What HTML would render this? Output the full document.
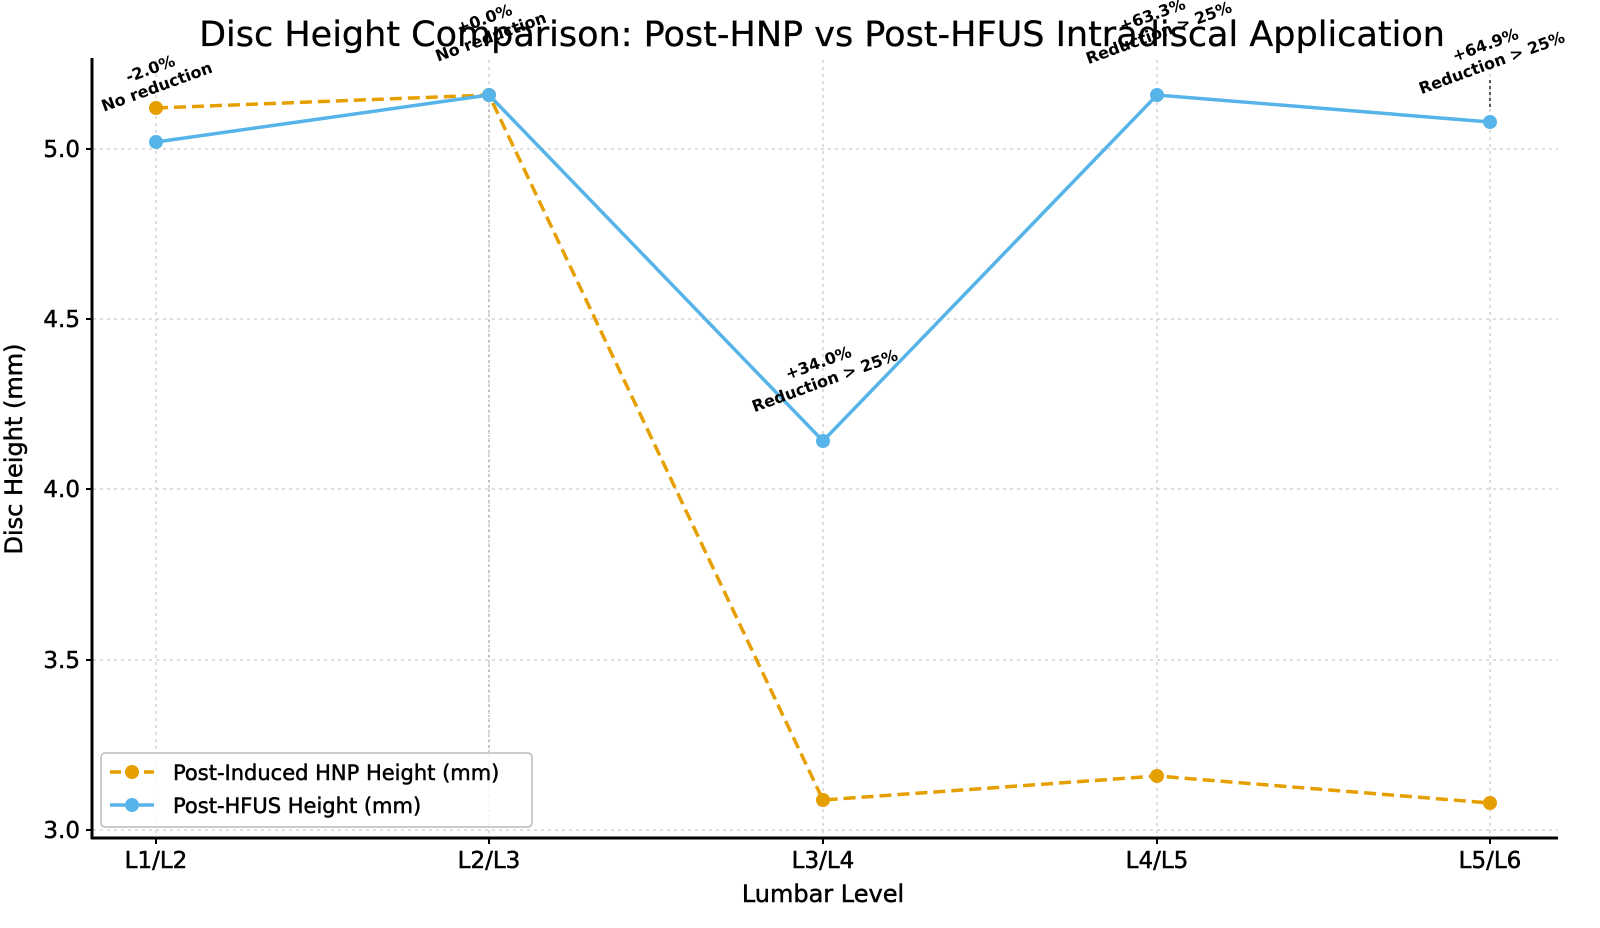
<!DOCTYPE html>
<html><head><style>body{margin:0;background:#fff}</style></head><body>
<svg width="1600" height="923" xmlns="http://www.w3.org/2000/svg" font-family="DejaVu Sans, Liberation Sans, sans-serif">
<rect width="1600" height="923" fill="#fff"/>
<g stroke="#ccc" stroke-width="1.3" stroke-dasharray="3,4">
<line x1="93" y1="149" x2="1558" y2="149"/><line x1="93" y1="319" x2="1558" y2="319"/>
<line x1="93" y1="489" x2="1558" y2="489"/><line x1="93" y1="660" x2="1558" y2="660"/>
<line x1="93" y1="830" x2="1558" y2="830"/>
<line x1="156" y1="60" x2="156" y2="838"/><line x1="489" y1="60" x2="489" y2="838"/>
<line x1="823" y1="60" x2="823" y2="838"/><line x1="1157" y1="60" x2="1157" y2="838"/>
<line x1="1490" y1="60" x2="1490" y2="838"/>
</g>
<g stroke="#000" stroke-width="1.3" stroke-dasharray="3,3">
<line x1="1490" y1="80" x2="1490" y2="108"/>
</g>
<line x1="489" y1="105" x2="489" y2="830" stroke="#666" stroke-width="1" stroke-dasharray="2,3" opacity="0.6"/>
<g stroke="#000" stroke-width="3" fill="none">
<line x1="92" y1="58" x2="92" y2="839"/><line x1="91" y1="838" x2="1558" y2="838"/>
</g>
<g stroke="#000" stroke-width="2">
<line x1="86" y1="149" x2="92" y2="149"/><line x1="86" y1="319" x2="92" y2="319"/><line x1="86" y1="489" x2="92" y2="489"/><line x1="86" y1="660" x2="92" y2="660"/><line x1="86" y1="830" x2="92" y2="830"/>
<line x1="156" y1="838" x2="156" y2="844"/><line x1="489" y1="838" x2="489" y2="844"/><line x1="823" y1="838" x2="823" y2="844"/><line x1="1157" y1="838" x2="1157" y2="844"/><line x1="1490" y1="838" x2="1490" y2="844"/>
</g>
<g font-size="23" text-anchor="end" fill="#000" stroke="#000" stroke-width="0.5">
<text x="80" y="157">5.0</text><text x="80" y="327">4.5</text><text x="80" y="497">4.0</text><text x="80" y="668">3.5</text><text x="80" y="838">3.0</text>
</g>
<g font-size="23" text-anchor="middle" fill="#000" stroke="#000" stroke-width="0.5">
<text x="156" y="868">L1/L2</text><text x="489" y="868">L2/L3</text><text x="823" y="868">L3/L4</text><text x="1157" y="868">L4/L5</text><text x="1490" y="868">L5/L6</text>
<text x="823" y="902" font-size="24">Lumbar Level</text>
<text transform="translate(22,449) rotate(-90)" font-size="24">Disc Height (mm)</text>
<text x="822" y="46" font-size="35" stroke-width="0.3">Disc Height Comparison: Post-HNP vs Post-HFUS Intradiscal Application</text>
</g>
<polyline points="156,108 489,95 823,800 1157,776 1490,803" fill="none" stroke="#E69F00" stroke-width="3.5" stroke-dasharray="12,6"/>
<g fill="#E69F00"><circle cx="156" cy="108" r="7"/><circle cx="489" cy="95" r="7"/><circle cx="823" cy="800" r="7"/><circle cx="1157" cy="776" r="7"/><circle cx="1490" cy="803" r="7"/></g>
<polyline points="156,142 489,95 823,441 1157,95 1490,122" fill="none" stroke="#56B4E9" stroke-width="3.5"/>
<g fill="#56B4E9"><circle cx="156" cy="142" r="7"/><circle cx="489" cy="95" r="7"/><circle cx="823" cy="441" r="7"/><circle cx="1157" cy="95" r="7"/><circle cx="1490" cy="122" r="7"/></g>
<g font-size="16" font-weight="bold" text-anchor="middle" fill="#000">
<g transform="translate(158,90) rotate(-20)"><text y="-17">-2.0%</text><text y="2">No reduction</text></g>
<g transform="translate(492,40) rotate(-20)"><text y="-17">+0.0%</text><text y="2">No reduction</text></g>
<g transform="translate(826,384) rotate(-20)"><text y="-17">+34.0%</text><text y="2">Reduction &gt; 25%</text></g>
<g transform="translate(1160,36) rotate(-20)"><text y="-17">+63.3%</text><text y="2">Reduction &gt; 25%</text></g>
<g transform="translate(1493,66) rotate(-20)"><text y="-17">+64.9%</text><text y="2">Reduction &gt; 25%</text></g>
</g>
<rect x="101" y="753" width="431" height="74" rx="4" fill="#fff" fill-opacity="0.85" stroke="#bbb" stroke-width="1.5"/>
<line x1="110" y1="772" x2="154" y2="772" stroke="#E69F00" stroke-width="3.5" stroke-dasharray="11,6"/>
<circle cx="132" cy="772" r="7" fill="#E69F00"/>
<line x1="110" y1="805" x2="154" y2="805" stroke="#56B4E9" stroke-width="3.5"/>
<circle cx="132" cy="805" r="7" fill="#56B4E9"/>
<g font-size="21" fill="#000" stroke="#000" stroke-width="0.5"><text x="173" y="780">Post-Induced HNP Height (mm)</text><text x="173" y="813">Post-HFUS Height (mm)</text></g>
</svg>
</body></html>
